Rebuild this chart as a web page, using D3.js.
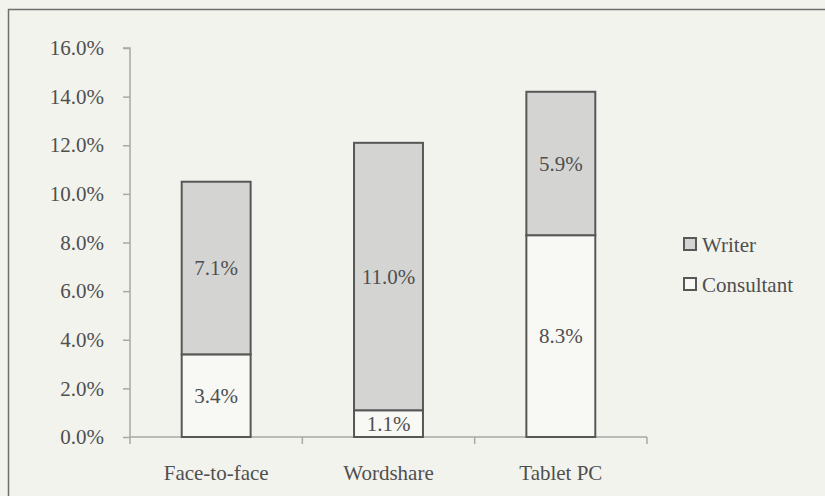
<!DOCTYPE html>
<html>
<head>
<meta charset="utf-8">
<script src="https://cdn.jsdelivr.net/npm/d3@7"></script>
<style>
  html, body { margin: 0; padding: 0; background: #f3f3ee; }
  svg { display: block; }
</style>
</head>
<body>
<div id="mainContainer"></div>
<script>
var categories = ["Face-to-face", "Wordshare", "Tablet PC"];
var seriesNames = ["Consultant", "Writer"];
var consultant = [3.4, 1.1, 8.3];
var writer = [7.1, 11.0, 5.9];
var yTicks = [0, 2, 4, 6, 8, 10, 12, 14, 16];

var W = 825, H = 496;
var margin = { top: 48, left: 130, bottom: 59, right: 178 };
var width = W - margin.left - margin.right,
    height = H - margin.top - margin.bottom;

var svg = d3.select('#mainContainer').append('svg')
    .attr('width', W)
    .attr('height', H);

svg.append('rect')
    .attr('width', W).attr('height', H)
    .attr('fill', '#f3f3ee');

// outer frame (top and left edges visible)
svg.append('path')
    .attr('d', 'M8.5,' + (H + 5) + 'V9.5H' + (W + 5))
    .attr('fill', 'none')
    .attr('stroke', '#6e6e6c')
    .attr('stroke-width', 1.5);

var g = svg.append('g')
    .attr('transform', 'translate(' + margin.left + ',' + margin.top + ')');

var xscale = d3.scaleBand()
    .domain(categories)
    .range([0, 517]);

var yscale = d3.scaleLinear()
    .domain([0, 16])
    .range([height, 0]);

var font = "'Liberation Serif', 'Times New Roman', serif";
var textColor = '#4f4f4f';
var fs = '21px';

// y axis
var yAxis = g.append('g')
    .call(d3.axisLeft(yscale).tickValues(yTicks).tickSize(7).tickPadding(19)
        .tickFormat(function(d) { return d.toFixed(1) + '%'; }));
yAxis.select('.domain').attr('stroke', '#a8a8a6').attr('stroke-width', 1.5)
    .attr('d', 'M0,' + height + 'V0H-7');
yAxis.selectAll('.tick line').attr('stroke', '#a8a8a6').attr('stroke-width', 1.5);
yAxis.selectAll('.tick text')
    .attr('fill', textColor)
    .attr('font-family', font)
    .attr('font-size', fs);

// x axis with ticks at band boundaries
var xAxis = g.append('g')
    .attr('transform', 'translate(0,' + height + ')');
xAxis.append('line')
    .attr('x1', 0).attr('x2', xscale.range()[1])
    .attr('stroke', '#a8a8a6').attr('stroke-width', 1.5);
var bounds = categories.map(function(c) { return xscale(c); }).concat([xscale.range()[1]]);
xAxis.selectAll('.bt')
    .data(bounds)
    .enter().append('line')
    .attr('x1', function(d) { return d; })
    .attr('x2', function(d) { return d; })
    .attr('y1', 0).attr('y2', 7)
    .attr('stroke', '#a8a8a6').attr('stroke-width', 1.5);
xAxis.selectAll('.cl')
    .data(categories)
    .enter().append('text')
    .attr('x', function(d) { return xscale(d) + xscale.bandwidth() / 2; })
    .attr('y', 43)
    .attr('text-anchor', 'middle')
    .attr('fill', textColor)
    .attr('font-family', font)
    .attr('font-size', fs)
    .text(function(d) { return d; });

// stacked bars
var barW = xscale.bandwidth() * 0.4;
var stackData = categories.map(function(c, i) {
    return { cat: c, Consultant: consultant[i], Writer: writer[i] };
});
var stacked = d3.stack().keys(seriesNames)(stackData);
var fills = { Consultant: '#f8f8f5', Writer: '#d4d4d2' };

stacked.forEach(function(layer) {
    var lg = g.append('g');
    lg.selectAll('rect')
        .data(layer)
        .enter().append('rect')
        .attr('x', function(d) { return xscale(d.data.cat) + (xscale.bandwidth() - barW) / 2; })
        .attr('y', function(d) { return yscale(d[1]); })
        .attr('width', barW)
        .attr('height', function(d) { return yscale(d[0]) - yscale(d[1]); })
        .attr('fill', fills[layer.key])
        .attr('stroke', '#575757')
        .attr('stroke-width', 2);
    lg.selectAll('text')
        .data(layer)
        .enter().append('text')
        .attr('x', function(d) { return xscale(d.data.cat) + xscale.bandwidth() / 2; })
        .attr('y', function(d) { return (yscale(d[0]) + yscale(d[1])) / 2; })
        .attr('dy', '0.35em')
        .attr('text-anchor', 'middle')
        .attr('fill', textColor)
        .attr('font-family', font)
        .attr('font-size', fs)
        .text(function(d) { return (d[1] - d[0]).toFixed(1) + '%'; });
});

// legend
var legendItems = ["Writer", "Consultant"];
var legend = svg.append('g').attr('transform', 'translate(684,238)');
legendItems.forEach(function(name, i) {
    var li = legend.append('g').attr('transform', 'translate(0,' + (i * 40) + ')');
    li.append('rect')
        .attr('width', 12).attr('height', 12)
        .attr('fill', fills[name])
        .attr('stroke', '#575757')
        .attr('stroke-width', 2);
    li.append('text')
        .attr('x', 18).attr('y', 14)
        .attr('fill', textColor)
        .attr('font-family', font)
        .attr('font-size', fs)
        .text(name);
});
</script>
</body>
</html>
